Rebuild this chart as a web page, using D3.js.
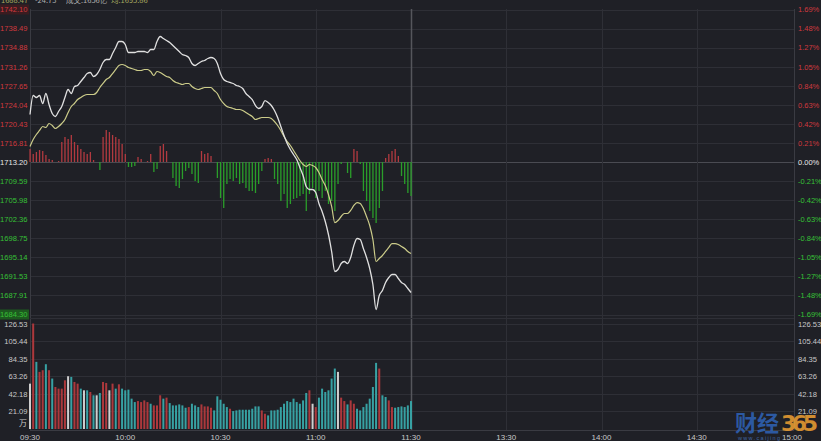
<!DOCTYPE html>
<html><head><meta charset="utf-8">
<script src="https://cdn.jsdelivr.net/npm/d3@7"></script>
<style>html,body{margin:0;padding:0;background:#1f2026;}svg{display:block;}</style>
</head><body><svg id="c" width="821" height="441"></svg>
<script>
const preClose = 1713.20;
const priceTicks = ["1742.10","1738.49","1734.88","1731.26","1727.65","1724.04","1720.43","1716.81","1713.20","1709.59","1705.98","1702.36","1698.75","1695.14","1691.53","1687.91","1684.30"];
const pctTicks = ["1.69%","1.48%","1.27%","1.05%","0.84%","0.63%","0.42%","0.21%","0.00%","-0.21%","-0.42%","-0.63%","-0.84%","-1.05%","-1.27%","-1.48%","-1.69%"];
const volTicks = ["126.53","105.44","84.35","63.26","42.18","21.09"];
const volUnit = "万";
const timeMinutes = [0,30,60,90,120,150,180,210,240];
const timeLabels = ["09:30","10:00","10:30","11:00","11:30","13:30","14:00","14:30","15:00"];
const headerTexts = ["1688.47","-24.73","成交:1656亿","均:1695.86"];

// minute-by-minute price (white) 09:30 - 11:30
const price = [1722.20,1725.80,1725.42,1725.80,1724.29,1726.18,1724.10,1722.39,1721.82,1722.77,
1723.72,1725.42,1726.94,1726.18,1727.51,1727.70,1728.46,1729.21,1729.97,1730.16,
1729.40,1729.78,1730.73,1732.06,1732.62,1732.62,1733.76,1734.90,1736.04,1736.04,
1735.47,1733.95,1733.95,1733.95,1734.14,1734.14,1734.14,1733.95,1734.52,1734.52,
1736.04,1736.98,1736.60,1736.23,1735.85,1735.28,1734.71,1734.14,1733.57,1733.38,
1733.00,1731.87,1731.49,1731.87,1732.25,1732.44,1732.81,1733.00,1732.81,1731.87,
1729.97,1728.83,1728.46,1728.27,1728.08,1727.70,1727.51,1727.13,1726.18,1725.61,
1725.04,1723.91,1723.34,1723.72,1724.85,1724.48,1723.91,1722.96,1721.63,1719.93,
1718.22,1716.71,1715.57,1714.62,1713.67,1712.16,1710.64,1708.56,1707.99,1707.99,
1707.42,1705.34,1703.82,1701.92,1699.46,1696.24,1692.45,1692.83,1693.96,1694.34,
1693.96,1695.10,1697.38,1698.70,1698.51,1696.81,1695.10,1693.02,1689.99,1685.25,
1687.90,1688.85,1690.36,1691.31,1691.88,1691.88,1691.12,1690.36,1689.99,1689.23,
1688.47];
// minute-by-minute average price (yellow)
const avgPrice = [1716.14,1717.46,1718.41,1719.17,1719.93,1719.74,1720.50,1720.12,1719.55,1719.93,
1720.50,1721.25,1722.58,1723.72,1724.29,1725.04,1725.42,1725.80,1725.99,1725.99,
1725.99,1726.37,1727.32,1728.08,1728.83,1729.21,1729.97,1730.73,1731.49,1731.68,
1731.49,1731.11,1730.92,1730.73,1730.54,1730.54,1730.73,1730.73,1730.35,1729.59,
1730.35,1730.16,1729.78,1729.40,1729.21,1728.65,1728.27,1728.08,1727.89,1728.08,
1728.08,1727.51,1727.13,1726.94,1727.13,1727.32,1727.32,1727.32,1726.75,1726.18,
1725.04,1724.29,1723.72,1723.53,1723.34,1723.15,1723.15,1722.96,1722.58,1722.20,
1721.82,1721.25,1721.44,1721.63,1721.63,1721.63,1721.44,1720.88,1720.12,1719.17,
1718.03,1717.08,1716.33,1715.38,1714.43,1713.48,1712.73,1712.35,1712.73,1712.54,
1712.16,1711.21,1709.88,1708.75,1707.04,1704.77,1701.73,1702.11,1702.87,1703.44,
1703.44,1704.01,1704.96,1705.52,1705.34,1704.39,1702.87,1701.17,1698.51,1694.34,
1694.91,1695.48,1696.24,1697.00,1697.75,1697.75,1697.57,1697.19,1696.81,1696.24,
1695.86];
// buy/sell strength bars around the zero line
const strength = [13,8,10,12,11,7,3,2,0,1,
20,25,23,27,20,17,13,10,8,10,
2,0,-8,25,32,30,27,25,23,18,
8,-5,-5,-4,5,3,0,1,8,-10,
-7,16,18,11,0,-16,-24,-26,-17,-9,
-6,-12,-19,-21,11,8,9,6,0,-16,
-36,-46,-22,-17,-19,-16,-22,-21,-26,-29,
-29,-31,-22,-9,3,4,3,-17,-22,-39,
-32,-46,-42,-37,-36,-34,-32,-49,-32,-26,
-36,-29,-36,-29,-42,-39,-49,-22,-2,0,
-11,-16,13,11,-2,-29,-39,-49,-56,-61,
-46,-29,4,8,11,13,6,-14,-22,-31,
-34];
// volume (万)
const volume = [54.4,126.5,80.5,68.5,70.5,77.7,70.5,60.5,50.4,48.4,
48.4,58.4,63.3,62.5,56.4,54.4,48.4,46.4,46.4,44.4,
40.4,40.4,43.2,56.4,55.2,46.4,54.4,48.4,53.6,48.4,
46.4,47.2,36.4,32.3,33.5,32.3,34.3,32.3,30.3,28.3,
28.3,40.4,36.4,37.6,31.1,28.3,28.3,29.5,28.3,25.5,
26.3,30.3,28.3,26.3,29.5,27.1,27.1,25.5,22.3,39.2,
35.1,30.3,26.3,24.3,21.5,22.3,23.1,23.1,23.1,23.1,
24.3,27.1,27.1,22.3,18.3,16.3,22.3,22.3,23.1,26.3,
30.3,33.5,32.3,36.4,32.3,30.3,34.3,43.2,46.4,30.3,
26.3,37.6,48.4,44.4,46.4,60.5,72.5,68.5,37.6,33.5,
29.5,34.3,30.3,24.3,22.3,26.3,30.3,36.4,50.4,79.3,
72.5,40.4,38.4,34.3,26.3,25.5,26.3,27.1,26.3,28.3,
33.5];
// 1 = up (red), -1 = down (teal), 0 = flat (white)
const volDir = [0,1,-1,1,1,-1,1,-1,1,1,
1,1,0,-1,1,1,-1,0,-1,1,
-1,0,-1,1,1,0,1,-1,1,-1,
-1,-1,-1,-1,1,1,1,1,-1,1,
1,1,-1,1,-1,-1,-1,-1,-1,-1,
1,-1,-1,-1,1,1,1,1,-1,-1,
-1,-1,-1,1,-1,-1,-1,-1,-1,-1,
-1,-1,-1,1,1,-1,-1,-1,-1,-1,
-1,-1,-1,-1,-1,-1,-1,-1,1,0,
1,-1,-1,-1,-1,-1,-1,0,1,1,
-1,1,1,-1,-1,-1,-1,-1,-1,-1,
1,-1,-1,1,1,-1,-1,-1,-1,-1,
-1];

const svg = d3.select("#c");
const W = 821, H = 441;
const L = 30, R = 792, plotRight = 794;
const x = d3.scaleLinear().domain([0,240]).range([L, R]);
const y = d3.scaleLinear().domain([+priceTicks[priceTicks.length-1], +priceTicks[0]]).range([314.5, 9.5]);
const ys = d3.scaleLinear().domain([-152.5, 152.5]).range([314.5, 9.5]);
const yv = d3.scaleLinear().domain([0, +volTicks[0]]).range([429, 323.5]);
const font = "'Liberation Sans', Arial, sans-serif";

svg.append("rect").attr("width",W).attr("height",H).attr("fill","#1f2026");

// header (clipped at top, as in the source)
const hx = [1, 35, 66, 111];
const hc = ["#c8c870","#d0d0d0","#d0d0d0","#c8c870"];
svg.append("g").selectAll("text").data(headerTexts).join("text")
  .attr("x",(d,i)=>hx[i]).attr("y",3).attr("font-size",7.5).attr("font-family","'Noto Sans CJK SC',sans-serif")
  .attr("fill",(d,i)=>hc[i]).attr("opacity",0.8).text(d=>d);

// horizontal grid - price panel
const gridG = svg.append("g");
gridG.selectAll("line.h").data(priceTicks).join("line")
  .attr("x1",L).attr("x2",plotRight)
  .attr("y1",d=>Math.round(y(+d))+0.5).attr("y2",d=>Math.round(y(+d))+0.5)
  .attr("stroke",(d)=>d===priceTicks[8]?"#4a4b52":"#2e2f36").attr("stroke-width",1);
// horizontal grid - volume panel
gridG.selectAll("line.v").data(volTicks).join("line")
  .attr("x1",L).attr("x2",plotRight)
  .attr("y1",d=>Math.round(yv(+d))+0.5).attr("y2",d=>Math.round(yv(+d))+0.5)
  .attr("stroke","#2e2f36");
// vertical grid
gridG.selectAll("line.t").data(timeMinutes.slice(1,8)).join("line")
  .attr("x1",d=>Math.round(x(d))+0.5).attr("x2",d=>Math.round(x(d))+0.5)
  .attr("y1",9).attr("y2",430)
  .attr("stroke",d=>d===120?"#55565c":"#2e2f36").attr("stroke-width",d=>d===120?1.5:1);
// borders
gridG.append("line").attr("x1",L+0.5).attr("x2",L+0.5).attr("y1",9).attr("y2",430).attr("stroke","#3a3b42");
gridG.append("line").attr("x1",plotRight+0.5).attr("x2",plotRight+0.5).attr("y1",9).attr("y2",430).attr("stroke","#3a3b42");
gridG.append("line").attr("x1",L).attr("x2",plotRight).attr("y1",430.5).attr("y2",430.5).attr("stroke","#3a3b42");
gridG.append("line").attr("x1",L).attr("x2",plotRight).attr("y1",318.5).attr("y2",318.5).attr("stroke","#2e2f36");

// strength bars
svg.append("g").selectAll("rect").data(strength).join("rect")
  .attr("x",(d,i)=>x(i)-0.6).attr("width",1.3)
  .attr("y",d=>d>=0?ys(d):ys(0)).attr("height",d=>Math.abs(ys(d)-ys(0)))
  .attr("fill",d=>d>=0?"#b23a40":"#2a9e2a");

// volume bars
const vcol = {"1":"#ac383c","-1":"#37a1a3","0":"#cfcfcf"};
svg.append("g").selectAll("rect").data(volume).join("rect")
  .attr("x",(d,i)=>x(i)-1).attr("width",2)
  .attr("y",d=>yv(d)).attr("height",d=>yv(0)-yv(d))
  .attr("fill",(d,i)=>vcol[volDir[i]]);

// lines
const line = d3.line().x((d,i)=>x(i)).y(d=>y(d)).curve(d3.curveMonotoneX);
svg.append("path").datum(avgPrice).attr("d",line).attr("fill","none")
  .attr("stroke","#cccc8a").attr("stroke-width",1.2).attr("stroke-linejoin","round");
svg.append("path").datum(price).attr("d",line).attr("fill","none")
  .attr("stroke","#e0e0e0").attr("stroke-width",1.3).attr("stroke-linejoin","round");

// left price labels
const labColor = (i)=> i<8 ? "#d0393e" : (i===8 ? "#e8e8e8" : "#36c036");
const lg = svg.append("g");
lg.append("rect").attr("x",0).attr("y",y(+priceTicks[0])-5).attr("width",29).attr("height",10).attr("fill","#3a1c20");
lg.append("rect").attr("x",0).attr("y",y(+priceTicks[16])-5).attr("width",29).attr("height",10).attr("fill","#1d5a1f");
lg.selectAll("text").data(priceTicks).join("text")
  .attr("x",27.5).attr("y",d=>y(+d)+2.8).attr("text-anchor","end")
  .attr("font-size",7.6).attr("font-family",font)
  .attr("fill",(d,i)=>labColor(i)).text(d=>d);
// right percent labels
svg.append("g").selectAll("text").data(pctTicks).join("text")
  .attr("x",798).attr("y",(d,i)=>y(+priceTicks[i])+2.8)
  .attr("font-size",7.5).attr("font-family",font)
  .attr("fill",(d,i)=>labColor(i)).text(d=>d);
// volume labels
svg.append("g").selectAll("text").data(volTicks).join("text")
  .attr("x",27.5).attr("y",d=>yv(+d)+3).attr("text-anchor","end")
  .attr("font-size",7.6).attr("font-family",font).attr("fill","#c8c8c8").text(d=>d);
svg.append("g").selectAll("text").data(volTicks).join("text")
  .attr("x",798).attr("y",d=>yv(+d)+3)
  .attr("font-size",7.6).attr("font-family",font).attr("fill","#c8c8c8").text(d=>d);
svg.append("text").attr("x",27).attr("y",yv(7)+3).attr("text-anchor","end")
  .attr("font-size",8).attr("font-family","'Noto Sans CJK SC',sans-serif").attr("fill","#c8c8c8").text(volUnit);

// time labels
svg.append("g").selectAll("text").data(timeLabels).join("text")
  .attr("x",(d,i)=>Math.min(x(timeMinutes[i]), 792)).attr("y",440).attr("text-anchor","middle")
  .attr("font-size",8).attr("font-family",font).attr("fill","#c8c8c8").text(d=>d);

// watermark logo (drawn over the corner, as in the source)
const wm = svg.append("g");
wm.append("text").attr("x",735).attr("y",431).attr("font-size",22).attr("font-weight","bold")
  .attr("font-family","'Noto Sans CJK SC',sans-serif").attr("fill","#2f63b8").attr("opacity",0.85).text("财经");
wm.append("text").attr("x",781).attr("y",431).attr("font-size",22).attr("font-weight","bold")
  .attr("font-family","'DejaVu Sans',sans-serif").attr("fill","#f0a032").attr("opacity",0.85).attr("textLength",37).text("365");
wm.append("text").attr("x",738).attr("y",440).attr("font-size",5.5).attr("font-family",font)
  .attr("fill","#4a78c0").attr("opacity",0.8).attr("textLength",42).text("www.caijing");
</script></body></html>
